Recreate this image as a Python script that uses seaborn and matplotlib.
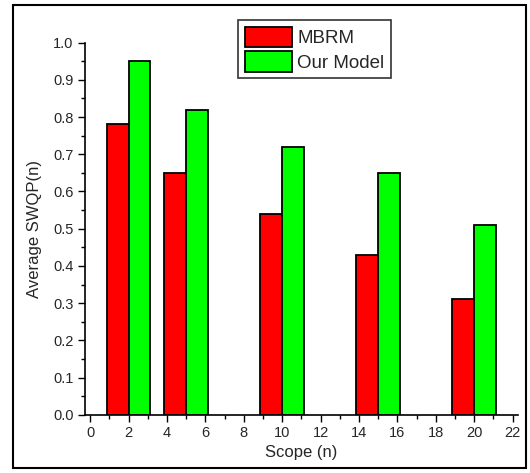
import matplotlib
matplotlib.use("Agg")
import matplotlib.pyplot as plt
import seaborn as sns
import pandas as pd
from matplotlib.patches import Rectangle
from matplotlib.ticker import MultipleLocator

scope = [2, 5, 10, 15, 20]
mbrm = [0.78, 0.65, 0.54, 0.43, 0.31]
our_model = [0.95, 0.82, 0.72, 0.65, 0.51]
series_names = ["MBRM", "Our Model"]
colors = ["#FF0000", "#00FF00"]

df = pd.DataFrame({
    "Scope": scope * 2,
    "Value": mbrm + our_model,
    "Model": [series_names[0]] * len(scope) + [series_names[1]] * len(scope),
})

sns.set_style("white")
plt.rcParams["font.family"] = ["Liberation Sans", "DejaVu Sans"]

fig = plt.figure(figsize=(5.30, 4.73), dpi=100)
ax = fig.add_axes([0.160, 0.123, 0.817, 0.787])

sns.barplot(data=df, x="Scope", y="Value", hue="Model", native_scale=True,
            palette=colors, width=0.76, edgecolor="black", linewidth=1.3,
            saturation=1, errorbar=None, ax=ax)

ax.set_xlim(-0.28, 22.27)
ax.set_ylim(0, 1.0)
ax.xaxis.set_major_locator(MultipleLocator(2))
ax.xaxis.set_minor_locator(MultipleLocator(1))
ax.yaxis.set_major_locator(MultipleLocator(0.1))
ax.yaxis.set_minor_locator(MultipleLocator(0.05))
ax.set_yticklabels([f"{v:.1f}" for v in ax.get_yticks()])
ax.tick_params(which="major", direction="out", length=5, width=1, labelsize=10.5,
               bottom=True, left=True, pad=3, color="black")
ax.tick_params(which="minor", direction="out", length=3, width=1,
               bottom=True, left=True, color="black")
for s in ["top", "right"]:
    ax.spines[s].set_visible(False)
for s in ["left", "bottom"]:
    ax.spines[s].set_color("black")
    ax.spines[s].set_linewidth(1.2)

ax.set_xlabel("Scope (n)", fontsize=12, labelpad=4)
ax.set_ylabel("Average SWQP(n)", fontsize=12, labelpad=8)

leg = ax.legend(loc="upper left", bbox_to_anchor=(0.333, 1.085), fontsize=13.5,
                frameon=True, fancybox=False, edgecolor="black",
                handlelength=2.5, handleheight=1.3, handletextpad=0.3,
                borderpad=0.35, labelspacing=0.2, title=None)
leg.get_frame().set_linewidth(1.2)

fig.patches.append(Rectangle((13 / 530, 5 / 473), 513 / 530, 463 / 473,
                             transform=fig.transFigure, fill=False,
                             edgecolor="black", linewidth=1.5))

fig.savefig("out.png", dpi=100)
